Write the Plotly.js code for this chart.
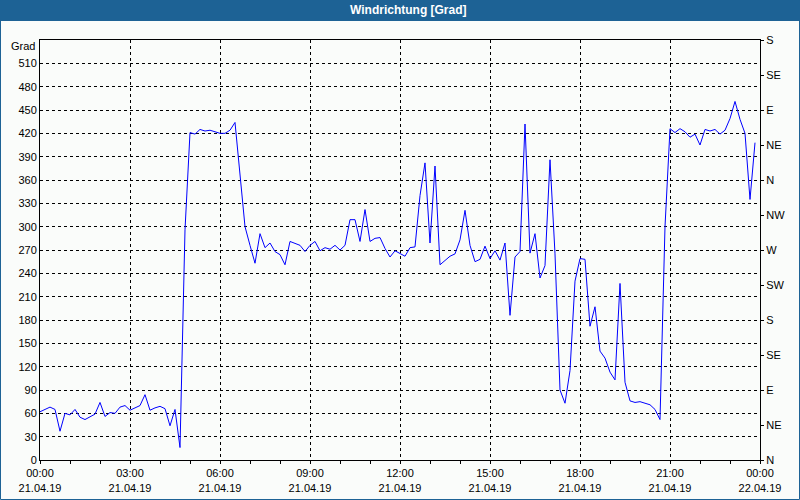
<!DOCTYPE html>
<html>
<head>
<meta charset="utf-8">
<script src="https://cdn.plot.ly/plotly-3.0.1.min.js"></script>
<style>
html,body{margin:0;padding:0;background:#fafcfa;}
#chart{width:800px;height:500px;}
</style>
</head>
<body>
<div id="chart"></div>
<script>
// Wind direction readings, one every 10 minutes from 21.04.19 00:00 to 23:50
const startTime = "2019-04-21";
const stepMinutes = 10;
const windDeg = [
  62, 65, 68, 65, 37, 60, 58, 65, 55, 52,
  56, 59, 74, 56, 61, 60, 68, 70, 64, 67,
  70, 84, 64, 67, 69, 66, 44, 65, 16, 296,
  421, 419, 425, 423, 424, 422, 420, 420, 424, 434,
  364, 300, 276, 253, 291, 273, 279, 268, 264, 251,
  281, 279, 276, 268, 276, 281, 269, 273, 271, 276,
  270, 276, 309, 309, 281, 322, 281, 285, 286, 272,
  261, 269, 266, 262, 273, 274, 340, 382, 279, 378,
  251, 257, 262, 265, 283, 321, 276, 255, 258, 275,
  259, 269, 257, 279, 186, 261, 268, 432, 266, 291,
  234, 250, 386, 265, 90, 73, 115, 230, 259, 258,
  172, 197, 140, 131, 113, 103, 227, 100, 76, 74,
  75, 73, 71, 65, 52, 300, 426, 421, 426, 422,
  415, 419, 405, 425, 423, 425, 419, 424, 439, 461,
  438, 420, 335, 408
];
const leftTicks = [0, 30, 60, 90, 120, 150, 180, 210, 240, 270, 300, 330, 360, 390, 420, 450, 480, 510];
const rightTickVals = [0, 45, 90, 135, 180, 225, 270, 315, 360, 405, 450, 495, 540];
const rightTickText = ["N", "NE", "E", "SE", "S", "SW", "W", "NW", "N", "NE", "E", "SE", "S"];
const chartTitle = "Windrichtung [Grad]";
const unitLabel = "Grad";

function pad(n){return (n<10?"0":"")+n;}
const times = windDeg.map((v,i)=>{
  const m = i*stepMinutes;
  return startTime + " " + pad(Math.floor(m/60)) + ":" + pad(m%60);
});

const FONT = "Liberation Sans, Arial, sans-serif";
const bg = "#fafcfa";
const blue = "#1d6295";

const trace = {
  x: times, y: windDeg, type: "scatter", mode: "lines",
  line: {color: "#0000ff", width: 1}, hoverinfo: "skip", showlegend: false
};
const dummy = {
  x: [times[0]], y: [0], yaxis: "y2", type: "scatter", mode: "markers",
  marker: {opacity: 0}, hoverinfo: "skip", showlegend: false
};

// pixel helpers (plot area 40..760 x 40..460)
const px = p => (p - 40) / 720;
const py = p => (460 - p) / 420;

const layout = {
  width: 800, height: 500,
  margin: {l: 40, r: 40, t: 40, b: 40, pad: 0},
  paper_bgcolor: bg, plot_bgcolor: bg,
  font: {family: FONT, size: 11, color: "#000"},
  showlegend: false,
  xaxis: {
    type: "date",
    range: ["2019-04-21 00:00", "2019-04-22 00:00"],
    tick0: "2019-04-21 00:00", dtick: 10800000,
    tickformat: "%H:%M<br>%d.%m.%y",
    ticks: "outside", ticklen: 3, tickcolor: "#000", tickwidth: 1,
    showgrid: true, gridcolor: "#000", gridwidth: 1, griddash: "3px,3px",
    showline: true, linecolor: "#000", linewidth: 1, mirror: true,
    minor: {dtick: 3600000, tick0: "2019-04-21 00:00", ticks: "outside", ticklen: 3, tickcolor: "#000", showgrid: false},
    zeroline: false, fixedrange: true,
    tickfont: {family: FONT, size: 11, color: "#000"}
  },
  yaxis: {
    range: [0, 540], tickmode: "array", tickvals: leftTicks,
    ticks: "", showgrid: true, gridcolor: "#000", gridwidth: 1, griddash: "3px,3px",
    showline: true, linecolor: "#000", linewidth: 1, mirror: true,
    zeroline: false, fixedrange: true,
    tickfont: {family: FONT, size: 11, color: "#000"}
  },
  yaxis2: {
    overlaying: "y", side: "right", range: [0, 540],
    tickmode: "array", tickvals: rightTickVals, ticktext: rightTickText,
    ticks: "outside", ticklen: 3, tickcolor: "#000",
    showgrid: false, zeroline: false, showline: false, fixedrange: true,
    tickfont: {family: FONT, size: 11, color: "#000"}
  },
  shapes: [
    {type: "rect", xref: "paper", yref: "paper", x0: px(0), x1: px(800), y0: py(0), y1: py(21),
     fillcolor: blue, line: {width: 0}, layer: "below"},
    {type: "rect", xref: "paper", yref: "paper", x0: px(0.5), x1: px(799.5), y0: py(0.5), y1: py(499.5),
     fillcolor: "rgba(0,0,0,0)", line: {color: blue, width: 1}}
  ],
  annotations: [
    {text: "<b>" + chartTitle + "</b>", xref: "paper", yref: "paper", x: px(409), y: py(10),
     xanchor: "center", yanchor: "middle", showarrow: false,
     font: {family: FONT, size: 12, color: "#fff"}},
    {text: unitLabel, xref: "paper", yref: "paper", x: px(37), y: py(46),
     xanchor: "right", yanchor: "middle", showarrow: false,
     font: {family: FONT, size: 11, color: "#000"}}
  ]
};

Plotly.newPlot("chart", [trace, dummy], layout, {staticPlot: true, displayModeBar: false});
</script>
</body>
</html>
